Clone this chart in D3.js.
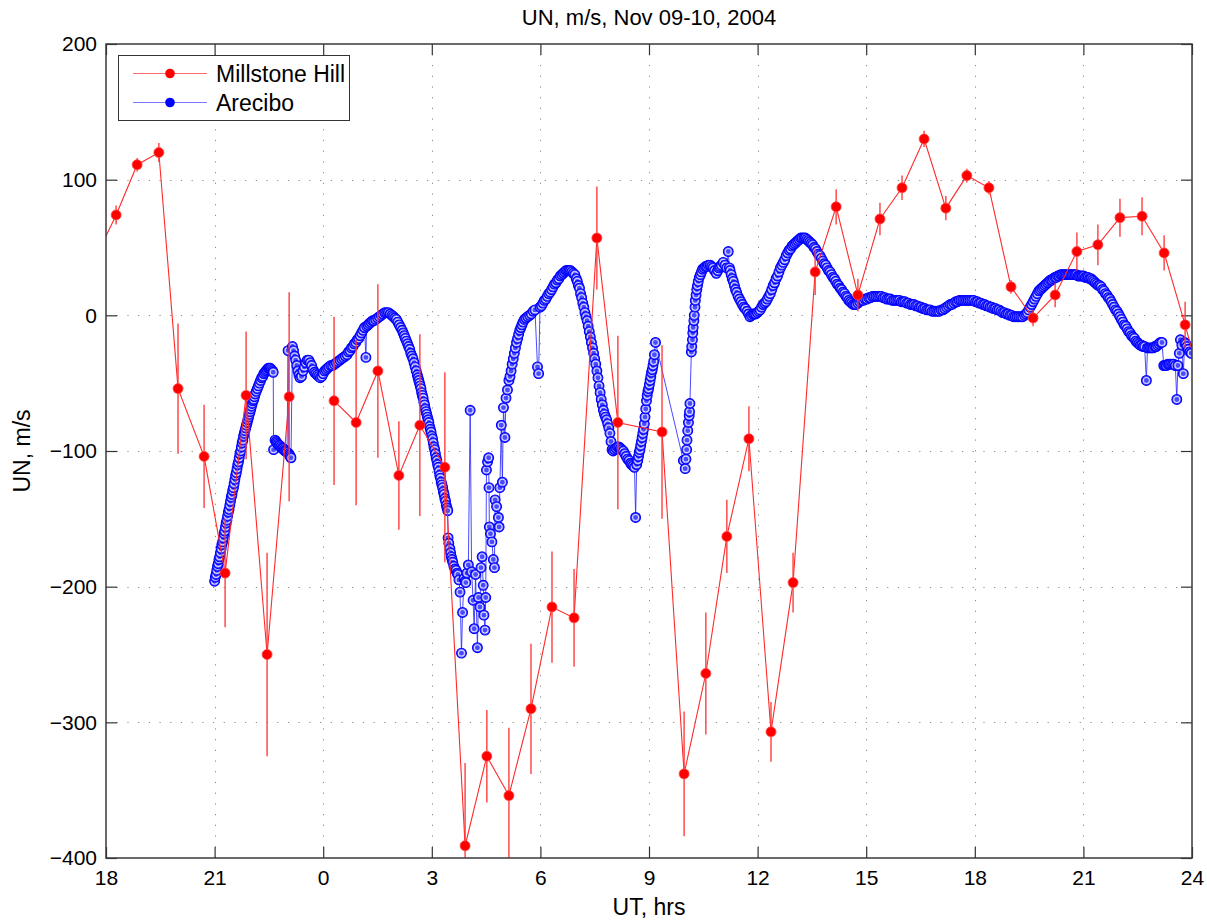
<!DOCTYPE html>
<html>
<head>
<meta charset="utf-8">
<script src="https://cdn.jsdelivr.net/npm/d3@7"></script>
<style>
  body { margin: 0; background: #fff; }
  text { font-family: "Liberation Sans", Arial, Helvetica, sans-serif; fill: #000; }
</style>
</head>
<body>
<svg id="chart" width="1207" height="920"></svg>
<script>
// ---- Millstone Hill meridional wind (hours since 00 UT Nov 09), with error bars ----
const mhTime = [17.72, 18.28, 18.86, 19.46, 19.99, 20.71, 21.29, 21.87, 22.45, 23.06, 23.67,
  24.30, 24.91, 25.51, 26.09, 26.67, 27.36, 27.92, 28.52, 29.13, 29.74, 30.32, 30.93,
  31.56, 32.14, 33.36, 33.97, 34.57, 35.15, 35.76, 36.37, 36.98, 37.59, 38.17, 38.77,
  39.38, 39.99, 40.60, 41.20, 41.78, 42.39, 43.00, 43.61, 44.22, 44.82, 45.40, 46.01,
  46.62, 47.23, 47.81, 48.40];
const mhUN = [43, 74, 111, 120, -54, -104, -190, -59, -250, -60, null,
  -63, -79, -41, -118, -81, -112, -391, -325, -354, -290, -215, -223,
  57, -79, -86, -338, -264, -163, -91, -307, -197, 32, 80, 15,
  71, 94, 130, 79, 103, 94, 21, -2, 15, 47, 52, 72,
  73, 46, -7, -65];
const mhErr = [8, 7, 5, 7, 48, 38, 40, 47, 75, 77, null,
  62, 61, 64, 40, 67, 70, 61, 34, 50, 48, 41, 36,
  38, 64, 64, 46, 45, 27, 24, 22, 22, 17, 13, 12,
  12, 9, 6, 9, 5, 5, 5, 6, 9, 14, 15, 14,
  14, 13, 17, 15];

// ---- Arecibo meridional wind: [hour, UN m/s] ----
const arecibo = [
  [21.00,-196],[21.02,-193],[21.04,-191],[21.06,-188],[21.08,-185],[21.10,-183],[21.12,-180],
  [21.14,-178],[21.16,-175],[21.18,-172],[21.20,-169],[21.22,-167],[21.24,-164],[21.26,-161],
  [21.28,-159],[21.30,-156],[21.32,-153],[21.34,-151],[21.36,-148],[21.38,-145],[21.40,-143],
  [21.42,-140],[21.44,-137],[21.46,-134],[21.48,-132],[21.50,-129],[21.52,-127],[21.54,-124],
  [21.56,-121],[21.58,-118],[21.60,-116],[21.62,-113],[21.64,-110],[21.66,-108],[21.68,-105],
  [21.70,-102],[21.72,-100],[21.74,-97],[21.76,-94],[21.78,-92],[21.80,-89],[21.82,-87],
  [21.84,-85],[21.86,-83],[21.88,-81],[21.90,-79],[21.92,-77],[21.94,-75],[21.96,-73],
  [21.98,-71],[22.00,-69],[22.02,-67],[22.04,-65],[22.06,-63],[22.08,-62],[22.10,-60],
  [22.12,-58],[22.15,-56],[22.18,-54],[22.21,-52],[22.24,-50],[22.27,-48],[22.30,-46],
  [22.33,-45],[22.36,-43],[22.39,-42],[22.42,-41],[22.45,-40],[22.48,-39],[22.51,-39],
  [22.54,-39],[22.57,-40],[22.60,-41],[22.62,-42],
  [22.63,-99],[22.67,-92],[22.70,-93],[22.72,-94],[22.75,-95],[22.78,-96],[22.80,-96],
  [22.83,-97],[22.86,-98],[22.89,-98],[22.92,-99],[22.94,-100],[22.97,-100],[23.00,-101],
  [23.03,-26],[23.05,-102],[23.07,-103],[23.09,-104],[23.11,-105],[23.15,-23],
  [23.18,-26],[23.21,-30],[23.24,-33],[23.27,-37],[23.30,-41],[23.33,-44],[23.36,-46],
  [23.40,-45],[23.44,-41],[23.48,-38],[23.52,-35],[23.56,-33],[23.60,-33],[23.64,-35],
  [23.68,-37],[23.72,-40],[23.76,-42],[23.80,-43],[23.84,-44],[23.88,-45],[23.92,-46],
  [23.96,-45],[24.00,-43],[24.04,-41],[24.08,-40],[24.12,-39],[24.16,-38],[24.21,-37],
  [24.26,-37],[24.31,-36],[24.36,-35],[24.41,-34],[24.46,-33],[24.51,-32],[24.56,-31],
  [24.61,-30],[24.66,-29],[24.70,-27],[24.74,-26],[24.78,-24],[24.82,-23],[24.86,-21],
  [24.90,-20],[24.94,-18],[24.98,-17],[25.02,-15],[25.06,-13],[25.10,-11],[25.14,-9],
  [25.18,-31],[25.20,-8],[25.24,-7],[25.28,-6],[25.32,-5],[25.36,-4],[25.40,-4],
  [25.45,-3],[25.50,-2],[25.55,-1],[25.60,0],[25.65,1],[25.70,2],[25.75,2],[25.80,2],
  [25.85,1],[25.90,0],
  [25.94,-1],[25.98,-2],[26.02,-3],[26.06,-5],[26.10,-7],[26.14,-9],[26.18,-11],[26.21,-13],
  [26.24,-15],[26.27,-17],[26.30,-19],[26.33,-21],[26.36,-23],[26.39,-25],[26.42,-28],
  [26.45,-30],[26.48,-32],[26.51,-35],[26.54,-38],[26.57,-41],[26.60,-44],[26.62,-46],
  [26.64,-48],[26.66,-50],[26.68,-52],[26.70,-54],[26.72,-57],[26.74,-59],[26.76,-61],
  [26.78,-64],[26.80,-66],[26.82,-69],[26.84,-71],[26.86,-73],[26.88,-75],[26.90,-77],
  [26.92,-79],[26.94,-82],[26.96,-84],[26.98,-86],[27.00,-89],[27.02,-91],[27.04,-94],
  [27.06,-97],[27.08,-99],[27.10,-102],[27.12,-105],[27.14,-107],[27.16,-110],[27.18,-112],
  [27.20,-115],[27.22,-118],[27.24,-120],[27.26,-123],[27.28,-125],[27.30,-127],[27.32,-130],
  [27.34,-132],[27.36,-135],[27.38,-137],[27.40,-140],[27.42,-142],[27.44,-144],
  [27.45,-164],[27.47,-168],[27.50,-172],[27.52,-175],[27.54,-178],[27.56,-180],[27.58,-182],
  [27.61,-185],[27.64,-187],[27.67,-188],[27.70,-190],[27.72,-191],[27.75,-195],[27.78,-204],
  [27.82,-249],[27.85,-219],[27.89,-194],[27.92,-196],[27.94,-197],[27.97,-190],[28.01,-184],
  [28.06,-70],[28.10,-189],[28.14,-210],[28.17,-231],[28.21,-191],[28.26,-245],[28.29,-208],
  [28.33,-215],[28.36,-186],[28.39,-178],[28.42,-199],[28.44,-221],[28.47,-232],[28.49,-208],
  [28.51,-114],[28.54,-108],[28.57,-105],[28.58,-127],[28.59,-156],[28.62,-161],[28.66,-167],
  [28.70,-180],[28.73,-186],[28.75,-136],[28.79,-141],[28.84,-149],[28.86,-156],[28.88,-127],
  [28.92,-81],[28.95,-123],[28.98,-68],[29.02,-90],[29.05,-61],[29.09,-55],
  [29.13,-48],[29.16,-45],[29.19,-41],[29.22,-36],[29.25,-32],[29.28,-28],[29.31,-24],
  [29.34,-20],[29.37,-17],[29.40,-14],[29.43,-11],[29.46,-9],[29.49,-7],[29.52,-5],
  [29.56,-3],[29.60,-2],[29.65,-1],[29.70,0],[29.75,1],[29.80,3],[29.85,4],[29.92,-38],
  [29.95,-43],[29.99,6],
  [30.03,7],[30.07,9],[30.11,11],[30.15,12],[30.19,14],[30.23,16],[30.27,17],[30.31,19],
  [30.35,21],[30.39,23],[30.43,24],[30.47,26],[30.51,27],[30.55,29],[30.59,30],[30.63,31],
  [30.67,32],[30.71,33],[30.75,33],[30.79,33],[30.83,33],[30.87,32],[30.91,31],[30.95,30],
  [30.99,27],[31.02,25],[31.05,22],[31.08,20],[31.11,16],[31.14,13],[31.17,9],[31.20,6],
  [31.23,2],[31.26,-1],[31.29,-4],[31.32,-8],[31.35,-12],[31.38,-16],[31.41,-20],[31.44,-24],
  [31.47,-28],[31.50,-32],[31.53,-36],[31.56,-41],[31.59,-46],[31.62,-52],[31.65,-57],
  [31.68,-62],[31.71,-66],[31.74,-70],[31.77,-73],[31.80,-75],[31.83,-77],[31.86,-80],
  [31.89,-83],[31.92,-87],[31.95,-93],[31.98,-99],
  [32.01,-100],[32.05,-99],[32.09,-98],[32.13,-97],[32.17,-97],[32.21,-98],[32.25,-99],
  [32.29,-100],[32.33,-102],[32.37,-104],[32.41,-106],[32.45,-107],[32.49,-109],[32.52,-110],
  [32.56,-111],[32.60,-112],[32.63,-149],[32.66,-110],[32.69,-107],[32.71,-104],[32.73,-101],
  [32.75,-99],[32.77,-96],[32.79,-93],[32.81,-90],[32.83,-87],[32.85,-84],[32.87,-80],
  [32.89,-75],[32.91,-69],[32.93,-63],[32.95,-59],[32.97,-56],[32.99,-54],[33.01,-51],
  [33.03,-48],[33.05,-45],[33.07,-42],[33.09,-40],[33.11,-37],[33.13,-34],[33.15,-29],
  [33.18,-20],
  [33.95,-107],[34.00,-113],[34.02,-106],[34.04,-99],[34.05,-92],[34.07,-85],[34.09,-79],
  [34.11,-74],[34.12,-71],[34.13,-65],[34.17,-27],[34.18,-23],[34.20,-18],[34.21,-13],
  [34.22,-9],[34.24,-4],[34.25,0],[34.27,6],[34.28,11],[34.30,15],[34.32,19],[34.34,22],
  [34.36,25],[34.39,28],[34.42,30],[34.45,32],[34.48,34],[34.52,35],[34.56,36],[34.60,36],
  [34.64,37],[34.69,37],[34.73,36],[34.77,35],[34.81,33],[34.86,31],[34.90,33],[34.93,35],
  [34.96,36],[35.00,37],[35.05,39],[35.10,37],[35.15,35],[35.19,47],[35.22,35],[35.24,33],
  [35.27,30],[35.30,27],[35.33,25],[35.36,22],[35.39,19],[35.42,17],[35.46,14],[35.50,12],
  [35.54,10],[35.58,8],[35.62,6],[35.66,5],[35.71,3],[35.75,1],[35.79,-1],[35.83,0],
  [35.87,1],[35.91,1],[35.95,1],[35.99,2],[36.03,3],[36.07,4],[36.11,6],[36.15,8],
  [36.19,9],[36.23,10],[36.27,12],[36.31,14],[36.35,16],[36.39,19],[36.43,22],[36.47,24],
  [36.51,27],[36.55,29],[36.59,32],[36.63,35],[36.67,37],[36.71,39],[36.75,41],[36.79,44],
  [36.83,46],[36.87,48],[36.91,49],[36.95,51],[36.99,52],[37.03,53],[37.07,54],[37.11,55],
  [37.15,56],[37.19,57],[37.23,57],[37.28,57],[37.32,57],[37.36,56],[37.40,55],[37.44,54],
  [37.48,53],[37.52,52],[37.56,50],[37.60,49],[37.64,47],[37.68,45],[37.72,44],[37.76,42],
  [37.80,40],[37.84,38],[37.88,37],[37.92,35],[37.96,33],[38.00,32],[38.04,30],[38.08,28],
  [38.12,27],[38.16,25],[38.20,23],[38.24,22],[38.28,20],[38.32,19],[38.36,17],[38.40,16],
  [38.44,14],[38.48,13],[38.52,11],[38.56,10],[38.60,9],[38.64,8],[38.68,8],[38.72,8],
  [38.77,9],[38.82,10],[38.87,11],[38.92,11],[38.97,12],[39.02,12],[39.07,13],[39.12,13],
  [39.17,14],[39.22,14],[39.27,14],[39.32,14],[39.37,14],[39.42,14],[39.47,13],[39.52,13],
  [39.57,12],[39.62,12],[39.67,12],[39.72,11],[39.77,11],[39.82,11],[39.87,11],[39.92,11],
  [39.97,10],[40.02,10],[40.07,10],[40.12,9],[40.17,9],[40.22,8],[40.27,8],[40.32,8],
  [40.37,7],[40.42,7],[40.47,6],[40.52,6],[40.57,5],[40.62,5],[40.67,4],[40.72,4],
  [40.77,4],[40.82,3],[40.87,3],[40.92,3],[40.97,3],[41.02,3],[41.07,4],[41.12,4],
  [41.17,5],[41.22,6],[41.27,7],[41.32,8],[41.37,8],[41.42,9],[41.47,10],[41.52,10],
  [41.57,11],[41.62,11],[41.67,11],[41.72,11],[41.77,11],[41.82,11],[41.87,11],[41.92,11],
  [41.97,11],[42.02,10],[42.07,10],[42.12,9],[42.17,9],[42.22,8],[42.27,8],[42.32,7],
  [42.37,7],[42.42,6],[42.47,6],[42.52,5],[42.57,5],[42.62,4],[42.67,4],[42.72,3],
  [42.77,2],[42.82,2],[42.87,1],[42.92,1],[42.97,0],[43.02,0],[43.07,-1],[43.12,-1],
  [43.17,-1],[43.22,-1],[43.27,-1],[43.32,-1],[43.37,0],[43.41,1],[43.45,2],[43.49,4],
  [43.53,6],[43.57,8],[43.61,10],[43.65,12],[43.69,14],[43.73,16],[43.77,18],[43.81,19],
  [43.85,20],[43.89,21],[43.93,22],[43.97,23],[44.01,24],[44.05,25],[44.09,26],[44.13,26],
  [44.17,27],[44.21,28],[44.25,28],[44.29,29],[44.33,29],[44.37,30],[44.41,30],[44.45,30],
  [44.49,30],[44.53,30],[44.57,30],[44.61,30],[44.65,30],[44.69,30],[44.73,30],[44.77,30],
  [44.81,30],[44.85,29],[44.89,29],[44.93,29],[44.97,29],[45.01,29],[45.05,28],[45.09,28],
  [45.13,28],[45.17,27],[45.21,27],[45.25,26],[45.29,25],[45.33,24],[45.37,23],[45.41,22],
  [45.45,22],[45.49,21],[45.53,19],[45.57,18],[45.61,16],[45.65,15],[45.69,13],[45.73,12],
  [45.77,10],[45.81,8],[45.85,6],[45.89,4],[45.93,3],[45.97,1],[46.01,-1],[46.05,-3],
  [46.09,-5],[46.13,-7],[46.17,-8],[46.21,-10],[46.25,-12],[46.29,-13],[46.33,-15],
  [46.37,-16],[46.41,-17],[46.45,-19],[46.49,-20],[46.53,-21],[46.57,-22],[46.61,-22],
  [46.65,-23],[46.69,-23],[46.74,-48],[46.77,-24],[46.81,-24],[46.85,-24],[46.89,-24],
  [46.93,-24],[46.97,-23],[47.01,-23],[47.05,-22],[47.09,-21],[47.13,-20],[47.17,-20],
  [47.22,-37],[47.25,-37],[47.29,-37],[47.33,-36],[47.37,-36],[47.41,-36],[47.46,-36],
  [47.50,-36],[47.54,-37],[47.58,-62],[47.61,-37],[47.65,-28],[47.68,-18],[47.72,-22],
  [47.76,-43],[47.80,-20],[47.83,-21],[47.86,-23],[47.90,-25],[47.94,-27],[47.98,-28]
];

// ---- axis ticks and text ----
const xTicks = [18, 21, 24, 27, 30, 33, 36, 39, 42, 45, 48];
const xTickLabels = ["18", "21", "0", "3", "6", "9", "12", "15", "18", "21", "24"];
const yTicks = [-400, -300, -200, -100, 0, 100, 200];
const seriesNames = ["Millstone Hill", "Arecibo"];
const titleText = "UN, m/s, Nov 09-10, 2004";
const xLabelText = "UT, hrs";
const yLabelText = "UN, m/s";

// ---- layout ----
const plot = { left: 106, top: 44, right: 1192, bottom: 858 };
const redLine = "#ff2a2a", redMark = "#ff0000";
const blueLine = "#2a2aff", blueMark = "#0000ff";

const svg = d3.select("#chart");
const x = d3.scaleLinear().domain([18, 48]).range([plot.left, plot.right]);
const y = d3.scaleLinear().domain([-400, 200]).range([plot.bottom, plot.top]);

svg.append("defs").append("clipPath").attr("id", "plotClip")
  .append("rect")
  .attr("x", plot.left).attr("y", plot.top)
  .attr("width", plot.right - plot.left).attr("height", plot.bottom - plot.top);

// dotted grid
const grid = svg.append("g").attr("stroke", "#8a8a8a").attr("stroke-width", 1)
  .attr("stroke-dasharray", "1.2,9.5");
grid.selectAll("line.gx").data(xTicks.slice(1, -1)).join("line")
  .attr("x1", d => Math.round(x(d)) + 0.5).attr("x2", d => Math.round(x(d)) + 0.5)
  .attr("y1", plot.bottom).attr("y2", plot.top);
grid.selectAll("line.gy").data(yTicks.slice(1, -1)).join("line")
  .attr("y1", d => Math.round(y(d)) + 0.5).attr("y2", d => Math.round(y(d)) + 0.5)
  .attr("x1", plot.left).attr("x2", plot.right);

// axes: inward ticks on all four sides
const tickLen = 11;
const fmtX = d => xTickLabels[xTicks.indexOf(d)];
const gBottom = svg.append("g").attr("transform", `translate(0,${plot.bottom})`)
  .call(d3.axisBottom(x).tickValues(xTicks).tickFormat(fmtX).tickSizeInner(-tickLen).tickSizeOuter(0).tickPadding(12));
const gTop = svg.append("g").attr("transform", `translate(0,${plot.top})`)
  .call(d3.axisTop(x).tickValues(xTicks).tickFormat("").tickSizeInner(-tickLen).tickSizeOuter(0));
const gLeft = svg.append("g").attr("transform", `translate(${plot.left},0)`)
  .call(d3.axisLeft(y).tickValues(yTicks).tickSizeInner(-tickLen).tickSizeOuter(0).tickPadding(9));
const gRight = svg.append("g").attr("transform", `translate(${plot.right},0)`)
  .call(d3.axisRight(y).tickValues(yTicks).tickFormat("").tickSizeInner(-tickLen).tickSizeOuter(0));
[gBottom, gTop, gLeft, gRight].forEach(g => {
  g.select(".domain").remove();
  g.selectAll(".tick line").attr("stroke", "#333").attr("stroke-width", 1.2);
  g.selectAll(".tick text").attr("font-size", 21).attr("fill", "#000")
    .style("font-family", '"Liberation Sans", Arial, sans-serif');
});

// ---- Arecibo series ----
const data = svg.append("g").attr("clip-path", "url(#plotClip)");
const arPts = arecibo.map(([t, v]) => ({ t, v }));
data.append("path").datum(arPts)
  .attr("fill", "none").attr("stroke", blueLine).attr("stroke-width", 1).attr("stroke-opacity", 0.85)
  .attr("d", d3.line().x(d => x(d.t)).y(d => y(d.v)));
const arMarks = data.append("g");
arPts.forEach(d => {
  const g = arMarks.append("g").attr("transform", `translate(${x(d.t)},${y(d.v)})`);
  g.append("circle").attr("r", 4.9).attr("fill", "#4a4aff").attr("stroke", blueMark).attr("stroke-width", 1.1);
  g.append("circle").attr("r", 3.0).attr("fill", "none").attr("stroke", "#d6d6ff").attr("stroke-width", 1.1);
});

// ---- Millstone Hill series ----
const mhPts = mhTime.map((t, i) => ({ t, v: mhUN[i], e: mhErr[i] }));
data.append("path").datum(mhPts)
  .attr("fill", "none").attr("stroke", redLine).attr("stroke-width", 1.1)
  .attr("d", d3.line().defined(d => d.v !== null).x(d => x(d.t)).y(d => y(d.v)));
data.append("g").selectAll("line").data(mhPts.filter(d => d.v !== null)).join("line")
  .attr("x1", d => x(d.t)).attr("x2", d => x(d.t))
  .attr("y1", d => y(d.v - d.e)).attr("y2", d => y(d.v + d.e))
  .attr("stroke", "#ff3838").attr("stroke-width", 1.6).attr("stroke-opacity", 0.85);
data.append("g").selectAll("circle").data(mhPts.filter(d => d.v !== null)).join("circle")
  .attr("cx", d => x(d.t)).attr("cy", d => y(d.v)).attr("r", 5)
  .attr("fill", redMark).attr("stroke", "#ff4a4a").attr("stroke-width", 0.8);

// frame
svg.append("rect")
  .attr("x", plot.left).attr("y", plot.top)
  .attr("width", plot.right - plot.left).attr("height", plot.bottom - plot.top)
  .attr("fill", "none").attr("stroke", "#3a3a3a").attr("stroke-width", 1.5);

// ---- legend ----
const leg = svg.append("g");
leg.append("rect").attr("x", 118.5).attr("y", 55.5).attr("width", 231).attr("height", 65)
  .attr("fill", "#fff").attr("stroke", "#333").attr("stroke-width", 1);
const legRows = [
  { name: seriesNames[0], line: "#ff6a6a", mark: redMark, cy: 73.5 },
  { name: seriesNames[1], line: "#7a7aff", mark: blueMark, cy: 102.5 }
];
legRows.forEach(r => {
  leg.append("line").attr("x1", 133).attr("x2", 207).attr("y1", r.cy).attr("y2", r.cy)
    .attr("stroke", r.line).attr("stroke-width", 1.2);
  leg.append("circle").attr("cx", 170).attr("cy", r.cy).attr("r", 4.8).attr("fill", r.mark);
  leg.append("text").attr("x", 216).attr("y", r.cy).attr("dy", "0.36em")
    .attr("font-size", 23).text(r.name);
});

// ---- titles ----
svg.append("text").attr("x", (plot.left + plot.right) / 2).attr("y", 25)
  .attr("text-anchor", "middle").attr("font-size", 22).text(titleText);
svg.append("text").attr("x", (plot.left + plot.right) / 2).attr("y", 915)
  .attr("text-anchor", "middle").attr("font-size", 23).text(xLabelText);
svg.append("text")
  .attr("transform", `translate(30,${(plot.top + plot.bottom) / 2}) rotate(-90)`)
  .attr("text-anchor", "middle").attr("font-size", 23).text(yLabelText);
</script>
</body>
</html>
